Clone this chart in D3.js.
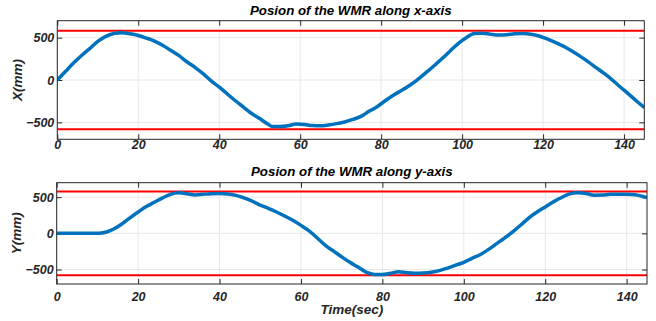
<!DOCTYPE html>
<html><head><meta charset="utf-8">
<script src="https://cdn.jsdelivr.net/npm/d3@7"></script>
<style>
body{margin:0;background:#fff;}
svg text{font-family:"Liberation Sans",Arial,sans-serif;font-weight:bold;font-style:italic;}
</style></head>
<body><svg id="c" width="656" height="321"></svg>
<script>
const xTicks = [0,20,40,60,80,100,120,140];
const yTicks = [-500,0,500];
const limits = [-580,580];

const timeX = [0,2,4,6,8,10,12,14,16,18,20,22,24,26,28,30,32,34,36,38,40,42,44,46,48,50,52,53,55,57,59,61,63,65,67,69,71,73,75,77,79,81,83,85,87,89,91,93,95,97,99,101,103,105,107,109,111,113,115,117,119,121,123,125,127,129,131,133,135,137,139,141,143,145];
const posX = [0,100,200,290,370,455,515,550,558,545,525,495,460,410,350,290,215,150,75,-10,-85,-165,-245,-320,-395,-455,-520,-548,-550,-540,-520,-525,-538,-540,-530,-515,-495,-465,-430,-370,-315,-245,-180,-125,-65,5,85,165,250,340,430,500,548,552,540,530,535,545,548,540,520,485,445,400,345,285,220,150,80,5,-80,-160,-245,-325];

const timeY = [0,2,4,6,8,10,11,12,13,14,16,18,20,22,24,26,28,30,32,34,36,38,40,42,44,46,48,50,52,54,56,58,60,62,64,66,68,70,72,74,76,78,80,82,84,86,88,90,92,94,96,98,100,102,104,106,108,110,112,114,116,118,120,122,124,126,128,130,132,134,136,138,140,142,144,145];
const posY = [0,0,0,0,0,0,5,15,35,60,130,215,295,370,430,490,540,560,548,530,540,548,550,545,525,490,445,390,345,295,240,180,110,35,-65,-165,-245,-325,-400,-465,-535,-568,-570,-552,-530,-545,-552,-548,-537,-515,-480,-440,-400,-345,-295,-225,-145,-65,20,115,215,295,365,435,495,545,562,552,528,530,540,542,540,532,510,495];

const svg = d3.select("#c");
const panels = [
  {t:timeX, v:posX, L:57.3, R:644.3, T:20.7, B:139.3, title:"Posion of the WMR along x-axis", ylab:"X(mm)", titleY:15, ylabX:22, xpad:1},
  {t:timeY, v:posY, L:56.7, R:647, T:182.7, B:284, title:"Posion of the WMR along y-axis", ylab:"Y(mm)", titleY:176, ylabX:21, xpad:8}
];
const axisCol = "#262626";
panels.forEach((p,i)=>{
  const x = d3.scaleLinear().domain([0,145]).range([p.L,p.R]);
  const y = d3.scaleLinear().domain([-700,700]).range([p.B,p.T]);
  const g = svg.append("g");
  g.selectAll(".gx").data(xTicks).join("line")
    .attr("x1",d=>x(d)).attr("x2",d=>x(d)).attr("y1",p.T).attr("y2",p.B)
    .attr("stroke","#e8e8e8").attr("stroke-width",1);
  g.selectAll(".gy").data(yTicks).join("line")
    .attr("y1",d=>y(d)).attr("y2",d=>y(d)).attr("x1",p.L).attr("x2",p.R)
    .attr("stroke","#e8e8e8").attr("stroke-width",1);
  const ax = d3.axisBottom(x).tickValues(xTicks).tickSizeInner(-5).tickSizeOuter(0).tickPadding(p.xpad);
  const axT = d3.axisTop(x).tickValues(xTicks).tickSizeInner(-5).tickSizeOuter(0).tickFormat("");
  const ay = d3.axisLeft(y).tickValues(yTicks).tickSizeInner(-5).tickSizeOuter(0).tickPadding(3);
  const ayR = d3.axisRight(y).tickValues(yTicks).tickSizeInner(-5).tickSizeOuter(0).tickFormat("");
  const styleAxis = s => { s.select(".domain").remove(); s.selectAll("line").attr("stroke",axisCol);
    s.selectAll("text").attr("fill",axisCol).attr("font-size","12.5px"); };
  g.append("g").attr("transform",`translate(0,${p.B})`).call(ax).call(styleAxis);
  g.append("g").attr("transform",`translate(0,${p.T})`).call(axT).call(styleAxis);
  g.append("g").attr("transform",`translate(${p.L},0)`).call(ay).call(styleAxis);
  g.append("g").attr("transform",`translate(${p.R},0)`).call(ayR).call(styleAxis);
  const cid = "clip"+i;
  svg.append("clipPath").attr("id",cid).append("rect").attr("x",p.L).attr("y",p.T).attr("width",p.R-p.L).attr("height",p.B-p.T);
  const pg = g.append("g").attr("clip-path",`url(#${cid})`);
  pg.selectAll(".lim").data(limits).join("line")
    .attr("x1",p.L).attr("x2",p.R).attr("y1",d=>y(d)).attr("y2",d=>y(d))
    .attr("stroke","#ff0000").attr("stroke-width",2);
  const data = p.t.map((t,k)=>[t,p.v[k]]);
  pg.append("path").datum(data)
    .attr("d", d3.line().x(d=>x(d[0])).y(d=>y(d[1])).curve(d3.curveMonotoneX))
    .attr("fill","none").attr("stroke","#0072BD").attr("stroke-width",3.5).attr("stroke-linejoin","round");
  g.append("rect").attr("x",p.L).attr("y",p.T).attr("width",p.R-p.L).attr("height",p.B-p.T)
    .attr("fill","none").attr("stroke",axisCol).attr("stroke-width",1);
  svg.append("text").attr("x",(p.L+p.R)/2).attr("y",p.titleY).attr("text-anchor","middle")
    .attr("font-size","13.3px").attr("fill","#000").text(p.title);
  svg.append("text").attr("transform",`translate(${p.ylabX},${(p.T+p.B)/2}) rotate(-90)`)
    .attr("text-anchor","middle").attr("font-size","13.5px").attr("fill",axisCol).text(p.ylab);
});
svg.append("text").attr("x",(56.7+647)/2).attr("y",314).attr("text-anchor","middle")
  .attr("font-size","13.5px").attr("fill",axisCol).text("Time(sec)");
</script></body></html>
